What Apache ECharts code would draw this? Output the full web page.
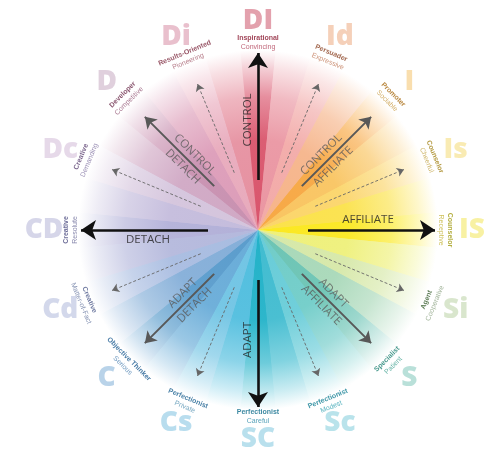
<!DOCTYPE html>
<html><head><meta charset="utf-8">
<script src="https://cdn.jsdelivr.net/npm/echarts@6/dist/echarts.min.js"></script>
<style>html,body{margin:0;padding:0;background:#fff}#c{width:495px;height:451px}</style>
</head><body><div id="c"></div>
<script>
// ---- data ----
const profileAngles = [0, 22.5, 45, 67.5, 90, 112.5, 135, 157.5, 180, 202.5, 225, 247.5, 270, 292.5, 315, 337.5];
const profileCodes = ['DI','Id','I','Is','IS','Si','S','Sc','SC','Cs','C','Cd','CD','Dc','D','Di'];
const profileRoles = ['Inspirational','Persuader','Promoter','Counselor','Counselor','Agent','Specialist','Perfectionist','Perfectionist','Perfectionist','Objective Thinker','Creative','Creative','Creative','Developer','Results-Oriented'];
const profileTraits = ['Convincing','Expressive','Sociable','Cheerful','Receptive','Cooperative','Patient','Modest','Careful','Private','Serious','Matter-of-Fact','Resolute','Demanding','Competitive','Pioneering'];
const codeColors = ['#dc8a98','#f2c4a8','#f8d69a','#f8e6a0','#f6ee8c','#cfe0c0','#a8d8d0','#a8dce6','#a8d8e8','#a6d4ea','#a8c8e4','#c8cee6','#cccce4','#e0d0e4','#d8c4d4','#e4b0c0'];
const roleColors = ['#8a1830','#8a4020','#a86a10','#a08010','#a09a10','#3a6030','#1a8070','#0a7a90','#0a6a8a','#1a6090','#1a5a90','#4a5888','#4a4a80','#5a4070','#6a2848','#7e2a40'];
const traitColors = ['#b04058','#c07858','#c89a40','#c0a040','#c0b030','#8aa080','#40a090','#30a0b0','#2a8aa8','#5090b0','#4a80b0','#6878a0','#6a6a98','#8070a0','#905070','#a86070'];

const axisAngles = [0, 45, 90, 135, 180, 225, 270, 315];
const axisWords = [['CONTROL'],['CONTROL','AFFILIATE'],['AFFILIATE'],['ADAPT','AFFILIATE'],['ADAPT'],['ADAPT','DETACH'],['DETACH'],['CONTROL','DETACH']];
const mainLabelSide = [1, 1, 1, -1]; // CONTROL, AFFILIATE, ADAPT, DETACH: side of the arrow

const dashedAngles = [22.5, 67.5, 112.5, 157.5, 202.5, 247.5, 292.5, 337.5];

const wheelShares = [1,1,1,1,1,1,1,1,1,1,1,1,1,1,1,1,1,1,1,1,1,1,1,1,1,1,1,1,1,1,1,1];
const wheelColors = ['#d9546c','#ea96a2','#f2aaa8','#f6b48a','#f7a844','#f9c460','#fbd56a','#fbe24a',
                     '#fbe820','#eef07a','#d6e8a8','#a8d8b8','#6cc4b4','#70ccc8','#68ccd8','#40bcd0',
                     '#22b2c8','#50bede','#70c4e4','#68acd8','#5a9ccc','#84aed8','#a8bce0','#b4b8dc',
                     '#b2b0d8','#c4bcdc','#d4c4dc','#d0a8c4','#c890b0','#dc9cb8','#e8aabc','#e690a0'];

// ---- layout/style ----
const W = 495, H = 451, CX = 258, CY = 230;
const WHEEL_R = 180;
function mixWhite(hex, t){const n=parseInt(hex.slice(1),16);const f=v=>Math.round(v+(255-v)*t);
  return `rgb(${f(n>>16&255)},${f(n>>8&255)},${f(n&255)})`;}
function grad(c){
  return {type:'radial', x:CX, y:CY, r:WHEEL_R, global:true, colorStops:[
    {offset:0, color:mixWhite(c,0)},{offset:0.5,color:mixWhite(c,0.05)},{offset:0.74,color:mixWhite(c,0.34)},
    {offset:0.9,color:mixWhite(c,0.72)},{offset:1,color:mixWhite(c,1)}]};
}
function pt(theta, r, ry){const t=theta*Math.PI/180;return [r*Math.sin(t), (ry||r)*Math.cos(t)];}
function tangentRot(theta){return (theta>90 && theta<270) ? 180-theta : (theta>270 ? 360-theta : -theta);}
function lineRot(theta){let a=90-theta; while(a>90)a-=180; while(a<=-90)a+=180; return a;}

const chart = echarts.init(document.getElementById('c'), null, {renderer:'canvas'});

const arrowData = (angles, r0, r1) => angles.map(a => ({coords:[pt(a,r0), pt(a,r1)]}));
const mainAngles = [0,90,180,270];
const diagAngles = [45,135,225,315];

const codeSeries = profileAngles.map((a,i)=>({
  value: pt(a, 214, 209),
  label:{show:true, position:'inside', formatter: profileCodes[i], color: codeColors[i],
    fontSize: 28, fontWeight:800, fontFamily:"'Open Sans', 'DejaVu Sans', sans-serif"}
}));
const subSeries = profileAngles.map((a,i)=>({
  value: pt(a, 187),
  label:{show:true, position:'inside', rotate: tangentRot(a),
    formatter: '{a|'+profileRoles[i]+'}\n{b|'+profileTraits[i]+'}',
    rich:{a:{color:roleColors[i], fontSize:7, fontWeight:'bold', lineHeight:9, fontFamily:"'Liberation Sans Narrow','Liberation Sans',sans-serif"},
          b:{color:traitColors[i], fontSize:7, lineHeight:9, fontFamily:"'Liberation Sans Narrow','Liberation Sans',sans-serif"}}}
}));
let mi = 0;
const axisLabelData = axisAngles.map((a,i)=>{
  const words = axisWords[i];
  const rot = lineRot(a);
  let p;
  if (words.length === 1) {
    const side = mainLabelSide[mi++];
    const base = pt(a, 110);
    const ra = rot*Math.PI/180;
    p = [base[0] - side*10*Math.sin(ra), base[1] + side*10*Math.cos(ra)];
  } else p = pt(a, 98);
  return {
    value: p,
    label:{show:true, position:'inside', rotate: rot, formatter: words.join('\n'),
      color: words.length===1 ? '#222' : '#5a5a5a', fontSize: 11.5, lineHeight: 17,
      fontFamily:"'Open Sans', sans-serif"}
  };
});

const wheelData = wheelShares.map((v,i)=>({value:v, itemStyle:{color:grad(wheelColors[i])}}));
const pieBase = {type:'pie', silent:true, center:[CX,CY], radius:[0,WHEEL_R], label:{show:false}, labelLine:{show:false},
     emphasis:{disabled:true}, data: wheelData};

chart.setOption({
  animation:false,
  grid:{left:0,right:0,top:0,bottom:0},
  xAxis:{type:'value', min:-CX, max:W-CX, show:false},
  yAxis:{type:'value', min:-(H-CY), max:CY, show:false},
  series:[
    Object.assign({}, pieBase, {startAngle:90+5.625+2, z:1}),
    Object.assign({}, pieBase, {startAngle:90+5.625, z:2}),
    {type:'lines', coordinateSystem:'cartesian2d', silent:true, z:3, symbol:['none','arrow'], symbolSize:7,
     lineStyle:{color:'#666', width:0.9, type:[3,2], opacity:1}, data: arrowData(dashedAngles, 62, 158)},
    {type:'lines', coordinateSystem:'cartesian2d', silent:true, z:3, symbol:['none','arrow'], symbolSize:11,
     lineStyle:{color:'#585858', width:2, opacity:1}, data: arrowData(diagAngles, 62, 160)},
    {type:'lines', coordinateSystem:'cartesian2d', silent:true, z:3, symbol:['none','arrow'], symbolSize:15,
     lineStyle:{color:'#111', width:2.6, opacity:1}, data: arrowData(mainAngles, 50, 177)},
    {type:'scatter', silent:true, clip:false, z:4, symbolSize:1, itemStyle:{color:'rgba(0,0,0,0)'}, data: codeSeries},
    {type:'scatter', silent:true, clip:false, z:4, symbolSize:1, itemStyle:{color:'rgba(0,0,0,0)'}, data: subSeries},
    {type:'scatter', silent:true, clip:false, z:4, symbolSize:1, itemStyle:{color:'rgba(0,0,0,0)'}, data: axisLabelData}
  ]
});
</script></body></html>
